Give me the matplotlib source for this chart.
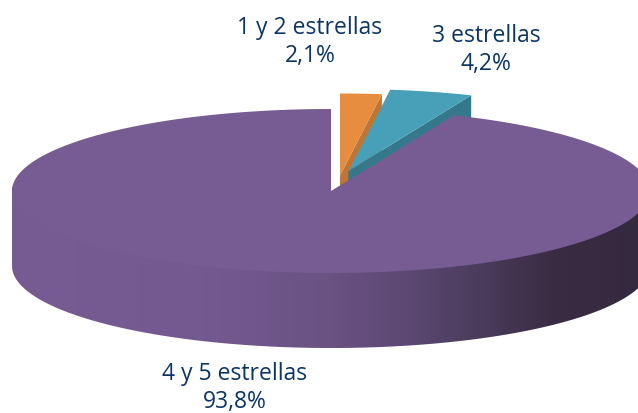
#!/usr/bin/env python3
import numpy as np
import matplotlib
matplotlib.use("Agg")
import matplotlib.pyplot as plt
from matplotlib.colors import LinearSegmentedColormap
from matplotlib.patches import Polygon

# data
categories = ["1 y 2 estrellas", "3 estrellas", "4 y 5 estrellas"]
shares = [2.1, 4.2, 93.8]
shareLabels = ["2,1%", "4,2%", "93,8%"]

# pie geometry, in pixels of the picture
radiusX = 319
radiusY = 82
depth = 75
centers = [(340, 176.5), (348.3, 172), (331, 192)]  # exploded slices
topColors = ["#E68D3F", "#47A0B8", "#775C93"]
sideColors = ["#BE7638", "#35788C", "#775C93"]
labelPos = [(310, 42), (486, 50), (235, 388)]
textColor = "#0B3566"

plt.rcParams["font.family"] = ["Open Sans", "DejaVu Sans"]

fig = plt.figure(figsize=(6.38, 4.14), dpi=100)
ax = fig.add_axes([0, 0, 1, 1])


def rim(center, t):
    return center[0] + radiusX * np.cos(t), center[1] - radiusY * np.sin(t)


# slices run clockwise from the top of the ellipse
sweeps = np.array(shares) / sum(shares) * 2 * np.pi
ends = np.pi / 2 - np.cumsum(sweeps)
starts = ends + sweeps

# small slices first, the big one covers their lower part
for i in [0, 1]:
    t = np.linspace(starts[i], ends[i], 60)
    x, y = rim(centers[i], t)
    cx, cy = centers[i]
    side = [(cx, cy), (x[-1], y[-1]), (x[-1], y[-1] + depth), (cx, cy + depth)]
    ax.add_patch(Polygon(side, closed=True, fc=sideColors[i], ec="none", zorder=2 + i))
    top = np.column_stack([np.r_[cx, x], np.r_[cy, y]])
    ax.add_patch(Polygon(top, closed=True, fc=topColors[i], ec="none", zorder=2 + i))

# outer wall of the big slice with its left to right shading
# its upper edge goes under the top face so no seam shows
t = np.linspace(np.pi, 2 * np.pi, 300)
x, y = rim(centers[2], t)
wall = np.column_stack([np.r_[x, x[::-1]], np.r_[y + depth, y[::-1] - 8]])
wallPatch = Polygon(wall, closed=True, fc="none", ec="none", zorder=4)
ax.add_patch(wallPatch)
wallCmap = LinearSegmentedColormap.from_list(
    "wall",
    [(0.0, "#775C93"), (0.3, "#745990"), (0.5, "#6A5283"), (0.62, "#5C4872"),
     (0.75, "#483A59"), (0.85, "#3A2C42"), (1.0, "#332A40")],
)
img = ax.imshow(np.linspace(0, 1, 640)[None, :], cmap=wallCmap, aspect="auto",
                extent=(12, 650, 349, 181), zorder=4)
img.set_clip_path(wallPatch)

# top of the big slice
t = np.linspace(starts[2], ends[2], 500)
x, y = rim(centers[2], t)
cx, cy = centers[2]
top = np.column_stack([np.r_[cx, x], np.r_[cy, y]])
ax.add_patch(Polygon(top, closed=True, fc=topColors[2], ec="none", zorder=5))

# labels
for name, share, pos in zip(categories, shareLabels, labelPos):
    ax.text(pos[0], pos[1], f"{name}\n{share}", color=textColor, fontsize=16.5,
            ha="center", va="center", linespacing=1.25, zorder=6)

ax.set_xlim(0, 638)
ax.set_ylim(414, 0)
ax.axis("off")

fig.savefig("out.png", dpi=100)
